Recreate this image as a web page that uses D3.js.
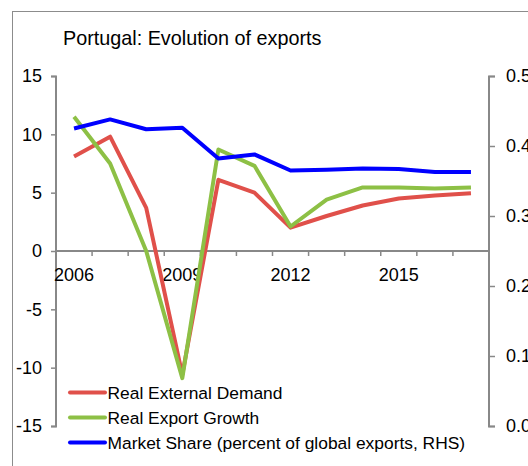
<!DOCTYPE html>
<html><head><meta charset="utf-8">
<script src="https://cdn.jsdelivr.net/npm/d3@7"></script>
<style>body{margin:0;background:#fff}svg{display:block;font-family:Arial,"Liberation Sans",sans-serif}</style>
</head><body><svg id="c" width="528" height="466"></svg>
<script>
const years = [2006,2007,2008,2009,2010,2011,2012,2013,2014,2015,2016,2017];
const externalDemand = [8.1,9.8,3.7,-10.6,6.1,5.0,2.0,3.0,3.9,4.5,4.75,4.95];
const exportGrowth = [11.5,7.5,0.0,-10.9,8.7,7.3,2.1,4.4,5.45,5.45,5.35,5.45];
const marketShare = [0.425,0.438,0.424,0.426,0.382,0.388,0.365,0.366,0.368,0.367,0.363,0.363];
const leftTicks = [-15,-10,-5,0,5,10,15];
const rightTicks = [0.0,0.1,0.2,0.3,0.4,0.5];
const xLabels = [2006,2009,2012,2015];
const seriesNames = ["Real External Demand","Real Export Growth","Market Share (percent of global exports, RHS)"];
const colors = ["#e0504a","#8dc045","#0000ff"];

const svg = d3.select("#c");
svg.append("rect").attr("x",12.5).attr("y",11.5).attr("width",600).attr("height",600)
  .attr("fill","none").attr("stroke","#8c8c8c").attr("stroke-width",1);
svg.append("text").attr("x",63).attr("y",44.5).attr("font-size",19.8).attr("fill","#000")
  .text("Portugal: Evolution of exports");

const x0 = 56, x1 = 489;
const x = d3.scaleBand().domain(years).range([x0,x1]).padding(0);
const yL = d3.scaleLinear().domain([-15,15]).range([426,76]);
const yR = d3.scaleLinear().domain([0,0.5]).range([426,76]);
const grey = "#888";
const fs = 18;

// left axis
const gl = svg.append("g").attr("transform",`translate(${x0},0)`)
  .call(d3.axisLeft(yL).tickValues(leftTicks).tickSize(5).tickPadding(9).tickFormat(d=>String(d)));
// right axis
const gr = svg.append("g").attr("transform",`translate(${x1},0)`)
  .call(d3.axisRight(yR).tickValues(rightTicks).tickSize(6).tickPadding(11).tickFormat(d=>d.toFixed(1)));
[gl,gr].forEach(g=>{
  g.select(".domain").attr("stroke",grey).attr("stroke-width",2);
  g.selectAll(".tick line").attr("stroke",grey).attr("stroke-width",1.5);
  g.selectAll(".tick text").attr("font-size",fs).attr("fill","#000").attr("font-family","Arial,'Liberation Sans',sans-serif");
});
gl.select(".domain").attr("d",`M-5,76.5H0V426.5H-5`);
gr.select(".domain").attr("d",`M6,76.5H0V426.5H6`);

// x axis at zero
const y0 = yL(0);
const boundaries = years.map(y=>x(y)).concat([x1]);
svg.append("line").attr("x1",x0).attr("x2",x1).attr("y1",y0).attr("y2",y0)
  .attr("stroke",grey).attr("stroke-width",2);
svg.selectAll(".xt").data(boundaries.slice(1,-1)).enter().append("line")
  .attr("x1",d=>d).attr("x2",d=>d).attr("y1",y0).attr("y2",y0+5)
  .attr("stroke",grey).attr("stroke-width",1.5);
svg.selectAll(".xl").data(xLabels).enter().append("text")
  .attr("x",d=>x(d)+x.bandwidth()/2).attr("y",y0+30).attr("text-anchor","middle")
  .attr("font-size",fs).attr("fill","#000").text(d=>d);

const cx = d=>x(d)+x.bandwidth()/2;
const lineL = d3.line().x((d,i)=>cx(years[i])).y(d=>yL(d));
const lineR = d3.line().x((d,i)=>cx(years[i])).y(d=>yR(d));
svg.append("path").attr("d",lineL(externalDemand)).attr("fill","none").attr("stroke",colors[0]).attr("stroke-width",4).attr("stroke-linejoin","round");
svg.append("path").attr("d",lineL(exportGrowth)).attr("fill","none").attr("stroke",colors[1]).attr("stroke-width",4).attr("stroke-linejoin","round");
svg.append("path").attr("d",lineR(marketShare)).attr("fill","none").attr("stroke",colors[2]).attr("stroke-width",4).attr("stroke-linejoin","round");

// legend
const lg = svg.append("g");
seriesNames.forEach((n,i)=>{
  const yy = 392.5 + i*25;
  lg.append("line").attr("x1",70).attr("x2",105).attr("y1",yy).attr("y2",yy)
    .attr("stroke",colors[i]).attr("stroke-width",4).attr("stroke-linecap","round");
  lg.append("text").attr("x",107.5).attr("y",yy+6.5).attr("font-size",17.4).attr("fill","#000").text(n);
});
</script></body></html>
